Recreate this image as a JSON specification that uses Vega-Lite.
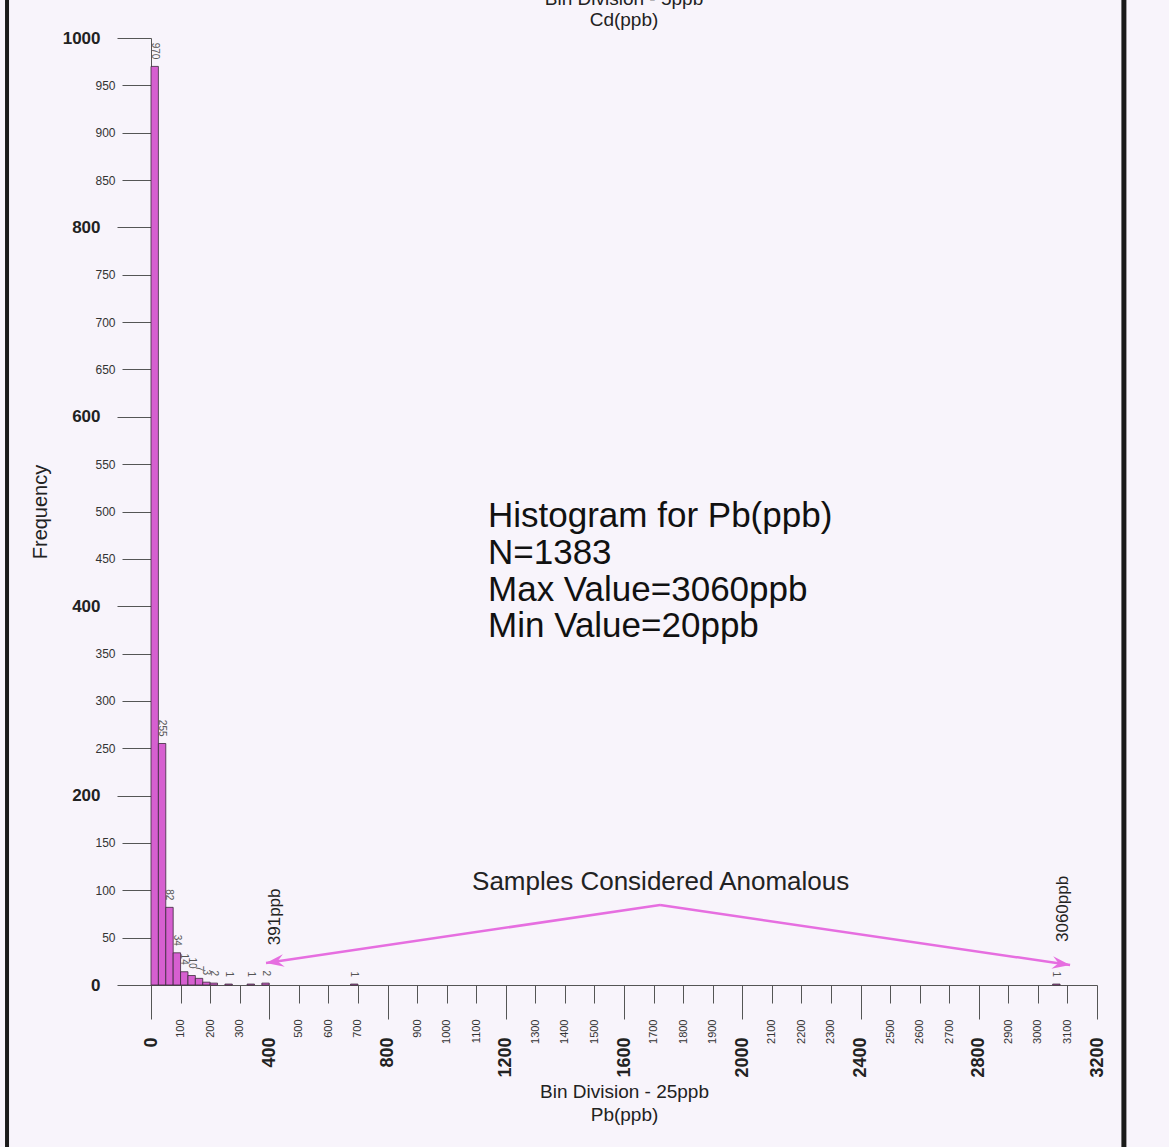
{
  "$schema": "https://vega.github.io/schema/vega-lite/v6.json",
  "width": 946,
  "height": 947,
  "autosize": {"type": "none"},
  "padding": {"left": 151, "top": 38, "right": 72, "bottom": 162},
  "background": "#f8f4fb",
  "config": {"view": {"stroke": null}, "font": "Liberation Sans", "axis": {"grid": false}},
  "title": {
    "text": ["Bin Division - 5ppb", "Cd(ppb)"],
    "fontSize": 19,
    "fontWeight": "normal",
    "lineHeight": 21,
    "baseline": "alphabetic",
    "frame": "group",
    "anchor": "middle",
    "offset": -47,
    "color": "#222",
    "font": "Liberation Sans"
  },
  "datasets": {
    "bins": [
      {"bin_start": 0, "bin_end": 25, "count": 970},
      {"bin_start": 25, "bin_end": 50, "count": 255},
      {"bin_start": 50, "bin_end": 75, "count": 82},
      {"bin_start": 75, "bin_end": 100, "count": 34},
      {"bin_start": 100, "bin_end": 125, "count": 14},
      {"bin_start": 125, "bin_end": 150, "count": 10},
      {"bin_start": 150, "bin_end": 175, "count": 7},
      {"bin_start": 175, "bin_end": 200, "count": 3},
      {"bin_start": 200, "bin_end": 225, "count": 2},
      {"bin_start": 250, "bin_end": 275, "count": 1},
      {"bin_start": 325, "bin_end": 350, "count": 1},
      {"bin_start": 375, "bin_end": 400, "count": 2},
      {"bin_start": 675, "bin_end": 700, "count": 1},
      {"bin_start": 3050, "bin_end": 3075, "count": 1}
    ],
    "arrows": [
      {"x": 1722, "y": 84.5, "x2": 389, "y2": 23.2},
      {"x": 1722, "y": 84.5, "x2": 3109, "y2": 21.1}
    ],
    "anomalies": [
      {"label": "391ppb", "x": 420, "y": 42},
      {"label": "3060ppb", "x": 3085, "y": 45.4}
    ],
    "one": [{}]
  },
  "layer": [
    {
      "data": {"name": "bins"},
      "mark": {"type": "bar", "fill": "#d65fd0", "stroke": "#3b2a3b", "strokeWidth": 0.8},
      "encoding": {
        "x": {
          "field": "bin_start", "type": "quantitative",
          "scale": {"domain": [0, 3200], "nice": false, "zero": false},
          "axis": {
            "orient": "bottom",
            "values": [0, 400, 800, 1200, 1600, 2000, 2400, 2800, 3200],
            "format": "d",
            "labelAngle": 270, "labelAlign": "right", "labelBaseline": "middle",
            "labelFontSize": 18, "labelFontWeight": "bold", "labelColor": "#222",
            "labelPadding": 18, "labelFlush": false, "labelOverlap": false,
            "tickSize": 34, "tickColor": "#555", "tickWidth": 1,
            "domainColor": "#555", "domainWidth": 1,
            "title": ["Bin Division - 25ppb", "Pb(ppb)"],
            "titleFontSize": 19, "titleFontWeight": "normal", "titleColor": "#222",
            "titleLineHeight": 23, "titlePadding": 5
          }
        },
        "x2": {"field": "bin_end"},
        "y": {
          "field": "count", "type": "quantitative",
          "scale": {"domain": [0, 1000], "nice": false, "zero": false},
          "axis": {
            "orient": "left",
            "values": [0, 200, 400, 600, 800, 1000],
            "format": "d",
            "labelFontSize": 17, "labelFontWeight": "bold", "labelColor": "#222",
            "labelPadding": 17, "labelFlush": false, "labelOverlap": false,
            "tickSize": 34, "tickColor": "#555", "tickWidth": 1,
            "domainColor": "#555", "domainWidth": 1,
            "title": "Frequency",
            "titleFontSize": 20, "titleFontWeight": "normal", "titleColor": "#222",
            "titlePadding": 12
          }
        },
        "y2": {"datum": 0}
      }
    },
    {
      "data": {"name": "bins"},
      "mark": {"type": "text", "angle": 90, "align": "right", "baseline": "middle", "dx": -7, "dy": -3.7, "fontSize": 10, "color": "#555"},
      "encoding": {
        "x": {
          "field": "bin_start", "type": "quantitative",
          "scale": {"domain": [0, 3200], "nice": false, "zero": false},
          "axis": {
            "orient": "bottom",
            "values": [100, 200, 300, 500, 600, 700, 900, 1000, 1100, 1300, 1400, 1500, 1700, 1800, 1900, 2100, 2200, 2300, 2500, 2600, 2700, 2900, 3000, 3100],
            "format": "d",
            "labelAngle": 270, "labelAlign": "right", "labelBaseline": "middle",
            "labelFontSize": 11, "labelFontWeight": "normal", "labelColor": "#333",
            "labelPadding": 16, "labelFlush": false, "labelOverlap": false,
            "tickSize": 18, "tickColor": "#555", "tickWidth": 1,
            "domain": false, "title": null
          }
        },
        "y": {
          "field": "count", "type": "quantitative",
          "scale": {"domain": [0, 1000], "nice": false, "zero": false},
          "axis": {
            "orient": "left",
            "values": [50, 100, 150, 250, 300, 350, 450, 500, 550, 650, 700, 750, 850, 900, 950],
            "format": "d",
            "labelFontSize": 12, "labelFontWeight": "normal", "labelColor": "#333",
            "labelPadding": 7, "labelFlush": false, "labelOverlap": false,
            "tickSize": 29, "tickColor": "#555", "tickWidth": 1,
            "domain": false, "title": null
          }
        },
        "text": {"field": "count", "type": "quantitative"}
      }
    },
    {
      "data": {"name": "arrows"},
      "mark": {"type": "rule", "color": "#e66ee0", "strokeWidth": 2.5},
      "encoding": {
        "x": {"field": "x", "type": "quantitative", "scale": {"domain": [0, 3200], "nice": false, "zero": false}, "axis": null},
        "y": {"field": "y", "type": "quantitative", "scale": {"domain": [0, 1000], "nice": false, "zero": false}, "axis": null},
        "x2": {"field": "x2"},
        "y2": {"field": "y2"}
      }
    },
    {
      "data": {"name": "one"},
      "mark": {"type": "point", "shape": "M0,0L2,-0.7L1.3,0L2,0.7Z", "filled": true, "color": "#e66ee0", "opacity": 1, "size": 324, "angle": 351.6},
      "encoding": {
        "x": {"datum": 389, "type": "quantitative", "scale": {"domain": [0, 3200], "nice": false, "zero": false}, "axis": null},
        "y": {"datum": 23.2, "type": "quantitative", "scale": {"domain": [0, 1000], "nice": false, "zero": false}, "axis": null}
      }
    },
    {
      "data": {"name": "one"},
      "mark": {"type": "point", "shape": "M0,0L-2,-0.7L-1.3,0L-2,0.7Z", "filled": true, "color": "#e66ee0", "opacity": 1, "size": 324, "angle": 8.3},
      "encoding": {
        "x": {"datum": 3109, "type": "quantitative", "scale": {"domain": [0, 3200], "nice": false, "zero": false}, "axis": null},
        "y": {"datum": 21.1, "type": "quantitative", "scale": {"domain": [0, 1000], "nice": false, "zero": false}, "axis": null}
      }
    },
    {
      "data": {"name": "anomalies"},
      "mark": {"type": "text", "angle": 270, "align": "left", "baseline": "middle", "fontSize": 17, "color": "#222"},
      "encoding": {
        "x": {"field": "x", "type": "quantitative", "scale": {"domain": [0, 3200], "nice": false, "zero": false}, "axis": null},
        "y": {"field": "y", "type": "quantitative", "scale": {"domain": [0, 1000], "nice": false, "zero": false}, "axis": null},
        "text": {"field": "label"}
      }
    },
    {
      "data": {"name": "one"},
      "mark": {"type": "text", "align": "left", "baseline": "top", "fontSize": 35, "lineHeight": 36.7, "color": "#111"},
      "encoding": {
        "x": {"datum": 1140, "type": "quantitative", "scale": {"domain": [0, 3200], "nice": false, "zero": false}, "axis": null},
        "y": {"datum": 513, "type": "quantitative", "scale": {"domain": [0, 1000], "nice": false, "zero": false}, "axis": null},
        "text": {"value": ["Histogram for Pb(ppb)", "N=1383", "Max Value=3060ppb", "Min Value=20ppb"]}
      }
    },
    {
      "data": {"name": "one"},
      "mark": {"type": "text", "align": "left", "baseline": "middle", "fontSize": 26, "color": "#222"},
      "encoding": {
        "x": {"datum": 1086, "type": "quantitative", "scale": {"domain": [0, 3200], "nice": false, "zero": false}, "axis": null},
        "y": {"datum": 108.8, "type": "quantitative", "scale": {"domain": [0, 1000], "nice": false, "zero": false}, "axis": null},
        "text": {"value": "Samples Considered Anomalous"}
      }
    },
    {
      "data": {"name": "one"},
      "mark": {"type": "rule", "color": "#1a1a1a", "strokeWidth": 4},
      "encoding": {
        "x": {"datum": -487, "type": "quantitative", "scale": {"domain": [0, 3200], "nice": false, "zero": false}, "axis": null},
        "y": {"datum": -171, "type": "quantitative", "scale": {"domain": [0, 1000], "nice": false, "zero": false}, "axis": null},
        "y2": {"datum": 1040}
      }
    },
    {
      "data": {"name": "one"},
      "mark": {"type": "rule", "color": "#1a1a1a", "strokeWidth": 5},
      "encoding": {
        "x": {"datum": 3291, "type": "quantitative", "scale": {"domain": [0, 3200], "nice": false, "zero": false}, "axis": null},
        "y": {"datum": -171, "type": "quantitative", "scale": {"domain": [0, 1000], "nice": false, "zero": false}, "axis": null},
        "y2": {"datum": 1040}
      }
    }
  ],
  "resolve": {"axis": {"x": "independent", "y": "independent"}}
}
